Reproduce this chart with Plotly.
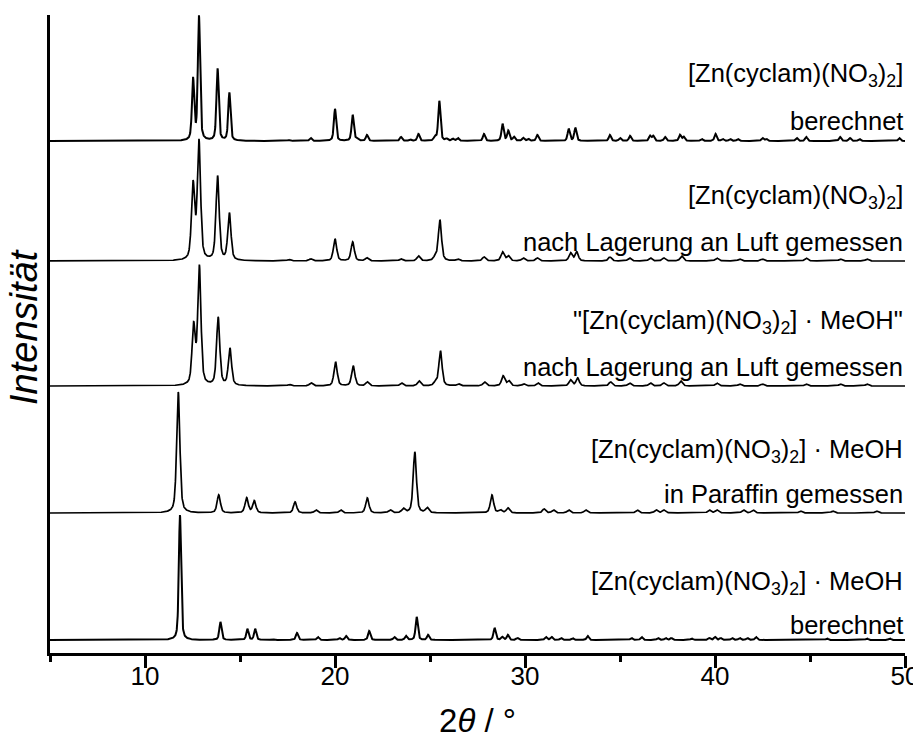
import numpy as np
import plotly.graph_objects as go

# ---- data ----
two_theta_min, two_theta_max = 5, 50

# Pattern 1: [Zn(cyclam)(NO3)2] berechnet
pos1 = [12.53, 12.84, 13.82, 14.44, 17.58, 18.72, 20.0, 20.93, 21.14, 21.68, 23.47, 23.95, 24.39, 25.26, 25.49,
        25.88, 26.2, 26.46, 27.84, 28.82, 29.12, 29.42, 29.91, 30.17, 30.65, 32.3, 32.65, 34.47, 35.0, 35.53,
        36.58, 36.75, 37.37, 38.16, 38.35, 39.3, 40.03, 40.4, 40.8, 41.2, 42.5, 42.7, 44.3, 44.8, 46.58, 47.1,
        47.6, 49.7]
h1 = [61, 124, 72, 48, 1, 3, 32, 26, 2, 6, 4, 1.5, 7, 4, 40,
      2, 2, 3, 7, 17, 10, 4, 3, 2, 6, 12, 13, 6, 3, 5,
      5, 5, 4, 6, 4, 2, 7, 2, 2, 2, 3, 2, 3, 4, 4, 3,
      2, 3]

# Pattern 2: [Zn(cyclam)(NO3)2] nach Lagerung an Luft gemessen
pos2 = [12.53, 12.84, 13.82, 14.44, 17.58, 18.72, 20.0, 20.93, 21.68, 23.47, 24.39, 25.26, 25.52, 26.46, 27.84,
        28.82, 29.12, 29.91, 30.65, 32.4, 32.72, 34.47, 35.5, 36.6, 37.3, 38.25, 40.1, 41.3, 42.5, 44.8, 46.6, 48.0]
h2 = [75, 118, 84, 47, 1.5, 2, 22, 19, 3, 2, 5, 3, 41, 2, 4,
      9, 5, 3, 3, 8, 9, 4, 3, 3, 3, 5, 3, 2, 2, 3, 2, 2]

# Pattern 3: "[Zn(cyclam)(NO3)2] · MeOH" nach Lagerung an Luft gemessen
pos3 = [12.56, 12.86, 13.85, 14.47, 17.6, 18.74, 20.03, 20.96, 21.7, 23.5, 24.42, 25.28, 25.55, 26.5, 27.87,
        28.85, 29.15, 29.93, 30.68, 32.4, 32.77, 34.5, 35.5, 36.6, 37.3, 38.2, 40.1, 41.3, 42.5, 44.8, 46.6, 48.0]
h3 = [58, 118, 68, 37, 1.5, 3, 24, 20, 4, 3, 5, 3, 35, 2, 4,
      10, 5, 2, 3, 6, 8, 4, 3, 3, 3, 5, 3, 2, 2, 2, 2, 2]

# Pattern 4: [Zn(cyclam)(NO3)2] · MeOH in Paraffin gemessen
pos4 = [11.75, 13.88, 15.35, 15.75, 17.9, 19.0, 20.3, 21.7, 22.9, 23.6, 24.2, 24.85, 28.26, 28.7, 29.1,
        31.0, 31.5, 32.3, 33.2, 35.9, 36.9, 37.3, 39.7, 40.1, 41.5, 42.0, 44.5, 46.2, 48.5]
h4 = [121, 18, 15, 12, 11, 3, 3, 15, 3, 4, 61, 5, 18, 3, 5,
      4, 3, 3, 3, 3, 3, 3, 3, 3, 3, 3, 2, 2, 2]

# Pattern 5: [Zn(cyclam)(NO3)2] · MeOH berechnet
pos5 = [11.84, 13.97, 15.39, 15.8, 16.72, 18.0, 19.1, 20.23, 20.58, 21.8, 23.12, 23.74, 24.3, 24.9, 28.4,
        28.8, 29.1, 29.6, 31.1, 31.4, 31.9, 32.5, 33.3, 35.6, 36.14, 37.0, 37.4, 37.7, 38.77, 39.7, 40.0,
        40.3, 40.9, 41.3, 41.7, 42.16, 45.9, 48.0, 49.2]
h5 = [125, 18, 11, 11, 1, 7, 3, 2, 4, 9, 3, 4, 23, 5, 12,
      3, 5, 2, 3, 3, 2, 2, 4, 2, 3, 2, 2, 2, 1.5, 2, 3,
      2, 2, 2, 2, 3, 1.5, 1.5, 1.5]

# vertical offsets of the stacked patterns (intensity units)
offsets = [512, 392, 267, 140, 13]

label_line1 = ["[Zn(cyclam)(NO<sub>3</sub>)<sub>2</sub>]",
               "[Zn(cyclam)(NO<sub>3</sub>)<sub>2</sub>]",
               "\"[Zn(cyclam)(NO<sub>3</sub>)<sub>2</sub>] · MeOH\"",
               "[Zn(cyclam)(NO<sub>3</sub>)<sub>2</sub>] · MeOH",
               "[Zn(cyclam)(NO<sub>3</sub>)<sub>2</sub>] · MeOH"]
label_line2 = ["berechnet",
               "nach Lagerung an Luft gemessen",
               "nach Lagerung an Luft gemessen",
               "in Paraffin gemessen",
               "berechnet"]
label_y1 = [578, 456, 331, 202, 70]
label_y2 = [532, 411, 286, 159, 28]

fwhm = [0.14, 0.2, 0.2, 0.2, 0.14]
tick_vals = [10, 20, 30, 40, 50]
y_title = "<i>Intensität</i>"

# ---- build profiles ----
x = np.arange(two_theta_min, two_theta_max + 0.005, 0.01)


def profile(positions, heights, w, eta=0.5):
    y = np.zeros_like(x)
    for p, h in zip(positions, heights):
        d = (x - p) / w
        lor = 1.0 / (1.0 + 4.0 * d * d)
        gau = np.exp(-4.0 * np.log(2) * d * d)
        y += h * (eta * lor + (1 - eta) * gau)
    return y


patterns = [(pos1, h1), (pos2, h2), (pos3, h3), (pos4, h4), (pos5, h5)]
FONT = "Liberation Sans, Arial, sans-serif"
LABEL_SIZE = 25.5

fig = go.Figure()
for i, (p, h) in enumerate(patterns):
    fig.add_trace(go.Scatter(x=x, y=profile(p, h, fwhm[i]) + offsets[i], mode="lines",
                             line=dict(color="black", width=2.0 if fwhm[i] < 0.15 else 1.7),
                             hoverinfo="skip", showlegend=False))

annotations = []
for i in range(5):
    annotations.append(dict(x=1, xref="paper", xanchor="right", y=label_y1[i], yref="y", yanchor="middle",
                            text=label_line1[i], showarrow=False,
                            font=dict(family=FONT, size=LABEL_SIZE, color="black")))
    annotations.append(dict(x=1, xref="paper", xanchor="right", y=label_y2[i], yref="y", yanchor="middle",
                            text=label_line2[i], showarrow=False,
                            font=dict(family=FONT, size=LABEL_SIZE, color="black")))

# y-axis title placed as a rotated annotation so it can sit close to the left edge
annotations.append(dict(x=-0.0304, xref="paper", xanchor="center", y=0.511, yref="paper", yanchor="middle",
                        text=y_title, textangle=-90, showarrow=False,
                        font=dict(family=FONT, size=38, color="black")))

# the page body adds an 8 px margin at top/left, so the figure is sized to fit the 921x747 window
fig.update_layout(
    width=913, height=731,
    margin=dict(l=42, r=16, t=7, b=86),
    paper_bgcolor="white", plot_bgcolor="white",
    font=dict(family=FONT, color="black"),
    annotations=annotations,
    xaxis=dict(range=[two_theta_min, two_theta_max], tickvals=tick_vals, automargin=False,
               ticks="outside", ticklen=12, tickwidth=2.5, tickcolor="black", ticklabelstandoff=-14,
               minor=dict(dtick=5, tick0=5, ticks="outside", ticklen=6, tickwidth=2.5, tickcolor="black"),
               showline=True, linecolor="black", linewidth=2.5, showgrid=False, zeroline=False,
               tickfont=dict(family=FONT, size=26, color="black"),
               title=dict(text="2<i>θ</i> / °", font=dict(family=FONT, size=33, color="black"), standoff=20)),
    yaxis=dict(range=[0, 638], showticklabels=False, ticks="", showline=True, linecolor="black",
               linewidth=2.5, showgrid=False, zeroline=False, automargin=False),
)

fig.write_html("out.html")
